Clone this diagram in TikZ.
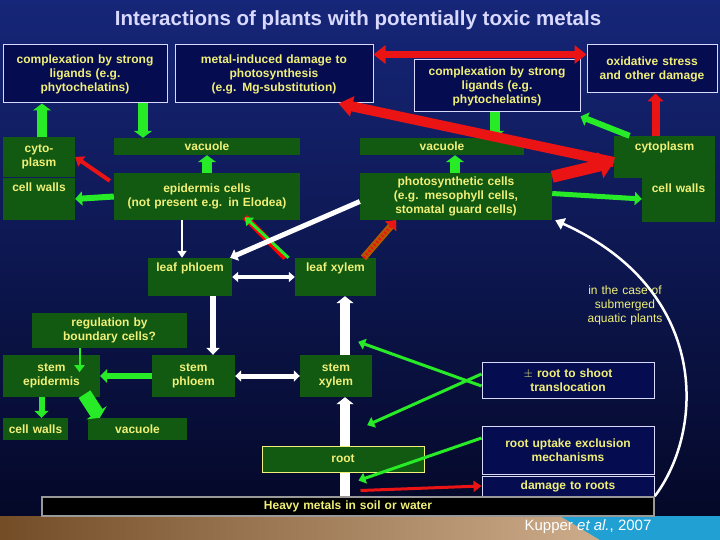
\documentclass[tikz,border=0pt]{standalone}
\usepackage{fontspec}
\setmainfont{Liberation Sans}
\usetikzlibrary{arrows.meta,patterns}
\definecolor{bgtop}{RGB}{22,38,120}
\definecolor{bgbot}{RGB}{4,8,40}
\definecolor{gbox}{RGB}{18,90,18}
\definecolor{nbox}{RGB}{6,12,80}
\definecolor{ytxt}{RGB}{240,240,120}
\definecolor{garr}{RGB}{40,235,40}
\definecolor{rarr}{RGB}{235,20,20}
\newcommand\bx[7]{%
 \pgfmathsetmacro\cx{(#2+#4)/2}\pgfmathsetmacro\cy{(#3+#5)/2}%
 \pgfmathsetmacro\bw{#4-#2}\pgfmathsetmacro\bh{#5-#3}%
 \node[#6,minimum width=\bw pt,minimum height=\bh pt,text width={\bw pt-2pt}] (#1) at (\cx,\cy) {#7};}
\tikzset{
 base/.style={draw=none,inner sep=1pt,align=center,text=ytxt,font=\bfseries\fontsize{12}{14}\selectfont,execute at begin node={\hyphenpenalty=10000\relax}},
 g/.style={base,fill=gbox},
 n/.style={base,fill=nbox,draw=white!85!blue,line width=1pt},
 ga/.style={draw=garr,line width=#1,-{Triangle[length=7pt,width={#1+8pt}]}},
 ra/.style={draw=rarr,line width=#1,-{Triangle[length=8pt,width={#1+8pt}]}},
 wa/.style={draw=white,line width=#1,-{Triangle[length=7pt,width={#1+7pt}]}},
 wd/.style={draw=white,line width=#1,{Triangle[length=6pt,width={#1+6pt}]}-{Triangle[length=6pt,width={#1+6pt}]}},
}
\begin{document}
\begin{tikzpicture}[x=1pt,y=-1pt]
\useasboundingbox (0,0) rectangle (720,540);
\shade[top color=bgtop,bottom color=bgbot] (0,0) rectangle (720,516);
\node[text=white!85!blue,font=\bfseries\fontsize{20.5}{24}\selectfont] (title) at (358,20) {Interactions of plants with potentially toxic metals};
\shade[left color=brown!60!black,right color=brown!50!white] (0,516) rectangle (720,540);
\fill[cyan!70!teal] (560,516) -- (720,516) -- (720,540) -- (600,540) -- cycle;
\node[text=white,font=\fontsize{15}{17}\selectfont] (cite) at (588,527) {Kupper \textit{et al.}, 2007};
% boxes
\bx{complL}{3}{45}{167}{103}{n}{complexation by strong\\ligands (e.g.\\phytochelatins)}
\bx{metal}{175}{45}{373}{103}{n}{metal-induced damage to\\photosynthesis\\(e.g. Mg-substitution)}
\bx{oxid}{587}{45}{717}{93}{n}{oxidative stress\\and other damage}
\bx{complR}{414}{60}{580}{112}{n}{complexation by strong\\ligands (e.g.\\phytochelatins)}
\bx{cytoL}{3}{137}{75}{177}{g}{cyto-\\plasm}
\bx{vacL}{114}{138}{300}{155}{g}{vacuole}
\bx{vacR}{360}{138}{524}{155}{g}{vacuole}
\bx{cytoR}{614}{136}{715}{178}{g,text depth=22pt}{cytoplasm}
\bx{cwL}{3}{178}{75}{220}{g,text depth=24pt}{cell walls}
\bx{epid}{114}{173}{300}{220}{g}{epidermis cells\\(not present e.g. in Elodea)}
\bx{photo}{360}{173}{552}{220}{g}{photosynthetic cells\\(e.g. mesophyll cells,\\stomatal guard cells)}
\bx{cwR}{642}{178}{715}{222}{g,text depth=24pt}{cell walls}
\bx{lphl}{148}{258}{232}{296}{g,text depth=20pt}{leaf phloem}
\bx{lxyl}{295}{258}{376}{296}{g,text depth=20pt}{leaf xylem}
\bx{reg}{32}{313}{187}{348}{g}{regulation by\\boundary cells?}
\bx{sepi}{3}{355}{100}{397}{g}{stem\\epidermis}
\bx{sphl}{152}{355}{235}{397}{g}{stem\\phloem}
\bx{sxyl}{300}{355}{372}{397}{g}{stem\\xylem}
\bx{rts}{482}{362}{654}{398}{n}{$\pm$ root to shoot\\translocation}
\bx{cwB}{3}{418}{68}{440}{g}{cell walls}
\bx{vacB}{88}{418}{187}{440}{g}{vacuole}
\bx{upt}{482}{426}{654}{474}{n}{root uptake exclusion\\mechanisms}
\bx{dmg}{482}{476}{654}{496}{n}{damage to roots}
\bx{heavy}{42}{497}{654}{516}{base,fill=black,draw=gray!80,line width=1.5pt}{Heavy metals in soil or water}
\node[base,text width=95pt,font=\fontsize{12}{14}\selectfont] (sub) at (625,305) {in the case of\\submerged\\aquatic plants};
\draw[wa=10pt] ([xshift=9pt]sxyl.south |- heavy.north) -- ([xshift=9pt]sxyl.south);
\bx{root}{262}{446}{424}{472}{g,draw=ytxt,line width=1pt}{root}
% top
\draw[ga=10pt] ([xshift=3pt]cytoL.north) -- ([xshift=3pt]cytoL.north |- complL.south);
\draw[ga=10pt] ([xshift=58pt]complL.south) -- ([xshift=58pt]complL.south |- vacL.north);
\draw[ga=10pt] (epid.north) -- (vacL.south);
\draw[ra=4pt] ([xshift=-4pt,yshift=-8pt]epid.north west) -- (cytoL.east);
\draw[ga=6pt] (epid.west) -- (cwL.east);
\draw[wa=2pt] ([xshift=-25pt]epid.south) -- ([xshift=-25pt]epid.south |- lphl.north);
\draw[draw=red,line width=6pt] ([xshift=-50pt]lxyl.north) -- ([xshift=38pt,yshift=3pt]epid.south);
\draw[ga=3pt] ([xshift=-47pt]lxyl.north) -- ([xshift=38pt,yshift=3pt]epid.south);
\draw[wa=5pt] ([yshift=-5pt]photo.west) -- ([xshift=-2pt]lphl.north east);
\draw[draw=orange!70!black,line width=7pt,-{Triangle[length=8pt,width=14pt]},postaction={draw=rarr,line width=3pt,dash pattern=on 2pt off 2pt}] ([xshift=28pt]lxyl.north) -- ([xshift=-60pt]photo.south);
\draw[ga=10pt] ([xshift=-2pt]complR.south) -- ([xshift=-2pt]complR.south |- vacR.north);
\draw[ga=10pt] ([xshift=-1pt]photo.north) -- ([xshift=-1pt]photo.north |- vacR.south);
\draw[ra=12pt,-{Triangle[length=14pt,width=26pt]}] ([yshift=-4pt]photo.north east) -- ([yshift=-5pt]cytoR.west);
\draw[ra=10pt,-{Triangle[length=14pt,width=20pt]}] ([yshift=-5pt]cytoR.west) -- ([xshift=-35pt]metal.south east);
\draw[ra=7pt,{Triangle[length=12pt,width=18pt]}-{Triangle[length=12pt,width=18pt]}] ([yshift=-10pt]metal.north east) -- ([yshift=-10pt]oxid.north west);
\draw[ga=6pt] ([xshift=-35pt]cytoR.north) -- ([yshift=-4pt]complR.south east);
\draw[ra=8pt] ([xshift=-9pt]cytoR.north) -- ([xshift=-9pt]cytoR.north |- oxid.south);
\draw[ga=5pt] ([yshift=3pt]photo.east) -- ([yshift=1pt]cwR.west);
\draw[white,line width=2.5pt,-{Triangle[length=9pt,width=12pt]}] (heavy.north east) .. controls (705,430) and (710,290) .. ([xshift=3pt]photo.south east);
% middle
\draw[wd=4pt] (lphl.east) -- (lxyl.west);
\draw[wa=6pt] ([xshift=23pt]lphl.south) -- ([xshift=23pt]lphl.south |- sphl.north);
\draw[wa=10pt] ([xshift=9pt]sxyl.north) -- ([xshift=9pt]sxyl.north |- lxyl.south);
\draw[wd=5pt] (sphl.east) -- (sxyl.west);
\draw[ga=6pt] (sphl.west) -- (sepi.east);
\draw[ga=2pt] ([xshift=-30pt]reg.south) -- ([xshift=-30pt,yshift=-24pt]reg.south);
\draw[ga=6pt] ([xshift=-10pt]sepi.south) -- ([xshift=-10pt]sepi.south |- cwB.north);
\draw[ga=14pt,-{Triangle[length=6pt,width=24pt]}] ([xshift=33pt,yshift=3pt]sepi.south) -- ([xshift=12pt]vacB.north west);
\draw[ga=3pt] ([yshift=-6pt]rts.west) -- ([xshift=-14pt,yshift=13pt]sxyl.north east);
\draw[ga=3pt] ([yshift=6pt]rts.west) -- ([xshift=-5pt,yshift=-28pt]sxyl.south east);
\draw[ga=3pt] ([yshift=12pt]upt.west) -- ([xshift=-66pt,yshift=-8pt]root.south east);
\draw[ra=3pt] ([xshift=-64pt,yshift=-18pt]root.south east) -- (dmg.west);
\end{tikzpicture}
\end{document}
